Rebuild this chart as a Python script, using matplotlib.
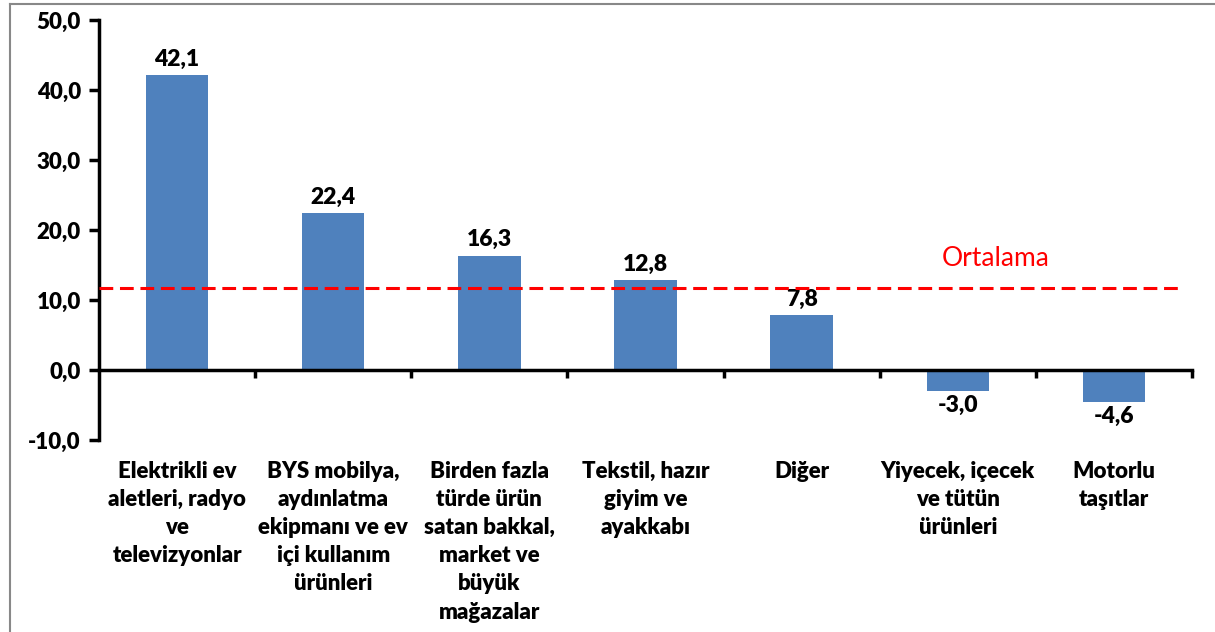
import matplotlib.pyplot as plt
from matplotlib.lines import Line2D

plt.rcParams['font.family'] = ['Lato', 'DejaVu Sans']

categories = [
    'Elektrikli ev\naletleri, radyo\nve\ntelevizyonlar',
    'BYS mobilya,\naydınlatma\nekipmanı ve ev\niçi kullanım\nürünleri',
    'Birden fazla\ntürde ürün\nsatan bakkal,\nmarket ve\nbüyük\nmağazalar',
    'Tekstil, hazır\ngiyim ve\nayakkabı',
    'Diğer',
    'Yiyecek, içecek\nve tütün\nürünleri',
    'Motorlu\ntaşıtlar',
]
values = [42.1, 22.4, 16.3, 12.8, 7.8, -3.0, -4.6]
mean_value = 11.7
yticks = [-10, 0, 10, 20, 30, 40, 50]

fig = plt.figure(figsize=(12.15, 6.32), dpi=100)
ax = fig.add_axes([99 / 1215, 1 - 440 / 632, (1192 - 99) / 1215, 420 / 632])

x = list(range(len(values)))
ax.bar(x, values, width=0.4, color='#4F81BD', zorder=2)

# value labels
for xi, v in zip(x, values):
    txt = f'{v:.1f}'.replace('.', ',')
    if v >= 0:
        ax.annotate(txt, (xi, v), xytext=(0, 4), textcoords='offset points',
                    ha='center', va='bottom', fontsize=16.5, fontweight='heavy')
    else:
        ax.annotate(txt, (xi, v), xytext=(0, -3), textcoords='offset points',
                    ha='center', va='top', fontsize=16.5, fontweight='heavy')

# average line
ax.plot([-0.5, 6.45], [mean_value, mean_value], color='#FF0000', lw=2.2,
        dashes=(4.5, 2.2), zorder=3)
ax.text(5.24, mean_value + 2.4, 'Ortalama', color='#FF0000', fontsize=19,
        ha='center', va='bottom')

ax.set_xlim(-0.5, 6.5)
ax.set_ylim(-10, 50)
ax.set_yticks(yticks)
ax.set_yticklabels([f'{t:.1f}'.replace('.', ',') for t in yticks],
                   fontsize=16, fontweight='heavy')

ax.spines['top'].set_visible(False)
ax.spines['right'].set_visible(False)
ax.spines['left'].set_linewidth(2.5)
ax.spines['bottom'].set_position(('data', 0))
ax.spines['bottom'].set_linewidth(2.5)
ax.tick_params(axis='y', direction='out', length=7, width=2.5, pad=6)

# ticks between categories on the zero line
ax.set_xticks([i + 0.5 for i in range(len(values))])
ax.set_xticklabels([])
ax.tick_params(axis='x', direction='out', length=6, width=2.5)

# category labels below the plot
for xi, lab in zip(x, categories):
    ax.annotate(lab, (xi, -10), xytext=(0, -15), textcoords='offset points',
                ha='center', va='top', fontsize=16, fontweight='heavy',
                linespacing=1.42, annotation_clip=False)

# outer frame (top and left edges visible)
fig.add_artist(Line2D([9.5 / 1215, 9.5 / 1215], [0, 1 - 3.5 / 632],
                      transform=fig.transFigure, color='#888888', lw=1.5))
fig.add_artist(Line2D([9.5 / 1215, 1], [1 - 3.5 / 632, 1 - 3.5 / 632],
                      transform=fig.transFigure, color='#888888', lw=1.5))

fig.savefig('out.png', dpi=100)
